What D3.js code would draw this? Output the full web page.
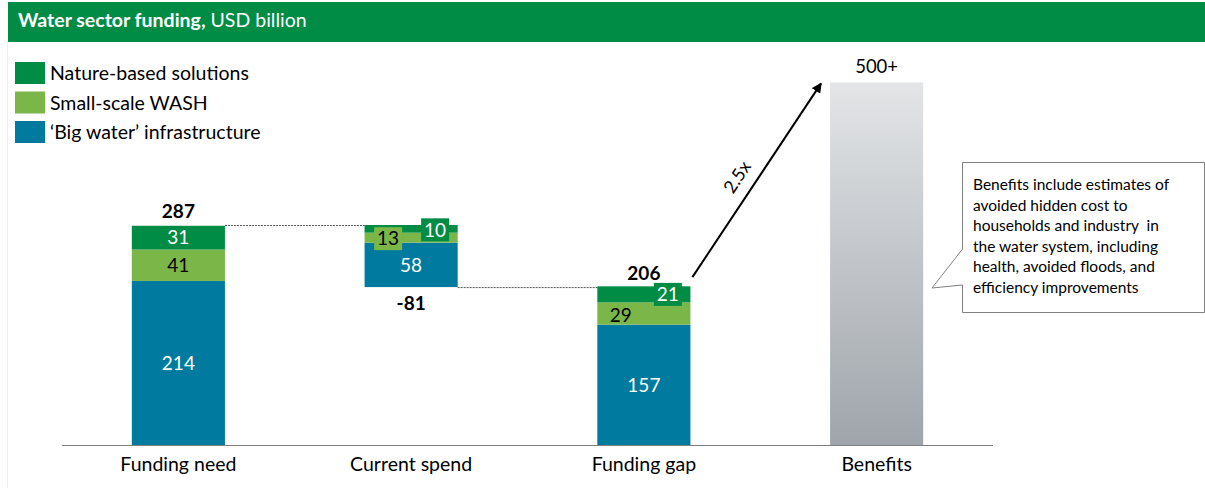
<!DOCTYPE html>
<html>
<head>
<meta charset="utf-8">
<script src="https://cdn.jsdelivr.net/npm/d3@7"></script>
<style>
  body { margin: 0; background: #fff; }
  svg { display: block; font-family: Lato, "Noto Sans", sans-serif; }
  text { white-space: pre; }
</style>
</head>
<body>
<svg id="main-svg"></svg>
<script>
// data
const categories = ["Funding need", "Current spend", "Funding gap", "Benefits"];
const seriesNames = ["'Big water' infrastructure", "Small-scale WASH", "Nature-based solutions"];
const bigWater = [214, 58, 157];
const smallWash = [41, 13, 29];
const natureBased = [31, 10, 21];
const totals = [287, -81, 206];
const totalLabels = ["287", "-81", "206"];
const benefitsValue = 473;
const benefitsLabel = "500+";
const multipleLabel = "2.5x";
const calloutLines = [
  "Benefits include estimates of",
  "avoided hidden cost to",
  "households and industry  in",
  "the water system, including",
  "health, avoided floods, and",
  "efficiency improvements"
];

let width = 1205, height = 488;
let colors = {big: "#007A9E", wash: "#7AB648", nature: "#008C44"};
let svg = d3.select('#main-svg').attr('width', width).attr('height', height);

let defs = svg.append('defs');
let grad = defs.append('linearGradient').attr('id', 'benefitGrad')
  .attr('x1', 0).attr('y1', 0).attr('x2', 0).attr('y2', 1);
grad.append('stop').attr('offset', '0%').attr('stop-color', '#E3E5E7');
grad.append('stop').attr('offset', '100%').attr('stop-color', '#9FA5AB');
defs.append('marker').attr('id', 'arrowHead')
  .attr('viewBox', '0 0 10 10').attr('refX', 9).attr('refY', 5)
  .attr('markerWidth', 5).attr('markerHeight', 5).attr('orient', 'auto')
  .append('path').attr('d', 'M0,0 L10,5 L0,10 z').attr('fill', '#000');

// header
svg.append('rect').attr('x', 8).attr('y', 2).attr('width', width - 8).attr('height', 40).attr('fill', '#008C44');
svg.append('line').attr('x1', 7.5).attr('x2', 7.5).attr('y1', 42).attr('y2', height).attr('stroke', '#eee');
let title = svg.append('text').attr('x', 18).attr('y', 27).attr('fill', '#fff').style('font-size', '19.5px');
title.append('tspan').attr('font-weight', 'bold').text('Water sector funding,');
title.append('tspan').text(' USD billion');

// legend
let legendItems = [
  {name: "Nature-based solutions", color: colors.nature},
  {name: "Small-scale WASH", color: colors.wash},
  {name: "\u2018Big water\u2019 infrastructure", color: colors.big}
];
let legend = svg.selectAll('.legend').data(legendItems).enter().append('g')
  .attr('transform', (d, i) => `translate(15,${62 + i * 29.5})`);
legend.append('rect').attr('width', 30).attr('height', 22).attr('fill', d => d.color);
legend.append('text').attr('x', 35).attr('y', 18).style('font-size', '19.5px').attr('fill', '#000').text(d => d.name);

// scales
let x = d3.scaleBand().domain(categories).range([62, 993]).paddingInner(0.6).paddingOuter(0.3);
let y = d3.scaleLinear().domain([0, 287]).range([445, 225]);
let bw = x.bandwidth();

// build stacked segments with waterfall bases
let segments = [];
let base = [0, totals[0] + totals[1], 0];
categories.slice(0, 3).forEach((c, i) => {
  let b = base[i];
  [[bigWater[i], colors.big, '#fff'], [smallWash[i], colors.wash, '#000'], [natureBased[i], colors.nature, '#fff']]
    .forEach((s, k) => {
      segments.push({cat: c, i: i, k: k, y0: b, y1: b + s[0], value: s[0], color: s[1], textColor: s[2]});
      b += s[0];
    });
});

svg.selectAll('.seg').data(segments).enter().append('rect')
  .attr('x', d => x(d.cat)).attr('width', bw)
  .attr('y', d => y(d.y1)).attr('height', d => y(d.y0) - y(d.y1))
  .attr('fill', d => d.color);

// benefits bar
svg.append('rect').attr('x', x('Benefits')).attr('width', bw)
  .attr('y', y(benefitsValue)).attr('height', y(0) - y(benefitsValue))
  .attr('fill', 'url(#benefitGrad)');

// axis baseline
svg.append('line').attr('x1', 62).attr('x2', 993).attr('y1', y(0) + 0.5).attr('y2', y(0) + 0.5)
  .attr('stroke', '#7f7f7f').attr('stroke-width', 1);
svg.selectAll('.cat').data(categories).enter().append('text')
  .attr('x', d => x(d) + bw / 2).attr('y', 471).attr('text-anchor', 'middle')
  .style('font-size', '19.5px').attr('fill', '#000').text(d => d);

// segment labels; thin segments get small offset boxes
let labelOffsets = {
  "1-1": {dx: -23, dy: 1, box: true},
  "1-2": {dx: 24, dy: 1, box: true},
  "2-1": {dx: -23, dy: 2, box: false},
  "2-2": {dx: 24, dy: 0, box: true}
};
segments.forEach(d => {
  let off = labelOffsets[d.i + '-' + d.k] || {dx: 0, dy: 0, box: false};
  let cx = x(d.cat) + bw / 2 + off.dx;
  let cy = (y(d.y0) + y(d.y1)) / 2 + off.dy;
  if (off.box) {
    svg.append('rect').attr('x', cx - 14).attr('y', cy - 11.5).attr('width', 28).attr('height', 23).attr('fill', d.color);
  }
  svg.append('text').attr('x', cx).attr('y', cy).attr('dy', '0.36em').attr('text-anchor', 'middle')
    .style('font-size', '19px').attr('fill', d.textColor).text(d.value);
});

// totals
let totalPos = [
  {cat: categories[0], v: totals[0], dy: -14},
  {cat: categories[1], v: totals[0] + totals[1], dy: 16},
  {cat: categories[2], v: 206, dy: -14}
];
svg.selectAll('.total').data(totalPos).enter().append('text')
  .attr('x', d => x(d.cat) + bw / 2).attr('y', d => y(d.v) + d.dy).attr('dy', '0.36em')
  .attr('text-anchor', 'middle').attr('font-weight', 'bold').style('font-size', '19px')
  .text((d, i) => totalLabels[i]);

// dotted connectors
let conn = [
  {x1: x(categories[0]) + bw, x2: x(categories[1]), v: totals[0]},
  {x1: x(categories[1]) + bw, x2: x(categories[2]), v: totals[0] + totals[1]}
];
svg.selectAll('.conn').data(conn).enter().append('line')
  .attr('x1', d => d.x1).attr('x2', d => d.x2).attr('y1', d => y(d.v) + 0.5).attr('y2', d => y(d.v) + 0.5)
  .attr('stroke', '#555').attr('stroke-width', 1).attr('stroke-dasharray', '2,1');

// benefits label
svg.append('text').attr('x', x('Benefits') + bw / 2).attr('y', y(benefitsValue) - 16).attr('dy', '0.36em')
  .attr('text-anchor', 'middle').style('font-size', '18.5px').text(benefitsLabel);

// 2.5x arrow
let ax1 = x('Funding gap') + bw + 2, ay1 = y(206) - 10;
let ax2 = x('Benefits') - 9, ay2 = y(benefitsValue) + 1;
svg.append('line').attr('x1', ax1).attr('y1', ay1).attr('x2', ax2).attr('y2', ay2)
  .attr('stroke', '#000').attr('stroke-width', 2).attr('marker-end', 'url(#arrowHead)');
let ang = Math.atan2(ay2 - ay1, ax2 - ax1) * 180 / Math.PI;
svg.append('text').attr('transform', `translate(737,177) rotate(${ang})`)
  .attr('text-anchor', 'middle').attr('dy', '0.36em').style('font-size', '18px').text(multipleLabel);

// callout
let bx = 962.5, by = 162.5, bx2 = 1204.5, by2 = 312.5;
svg.append('path')
  .attr('d', `M${bx},${by} L${bx2},${by} L${bx2},${by2} L${bx},${by2} L${bx},285 L932,288 L${bx},249 Z`)
  .attr('fill', '#fff').attr('stroke', '#808080').attr('stroke-width', 1);
svg.append('g').selectAll('text').data(calloutLines).enter().append('text')
  .attr('x', 973).attr('y', (d, i) => 190 + i * 20.6)
  .style('font-size', '15.5px').attr('fill', '#000').text(d => d);
</script>
</body>
</html>
